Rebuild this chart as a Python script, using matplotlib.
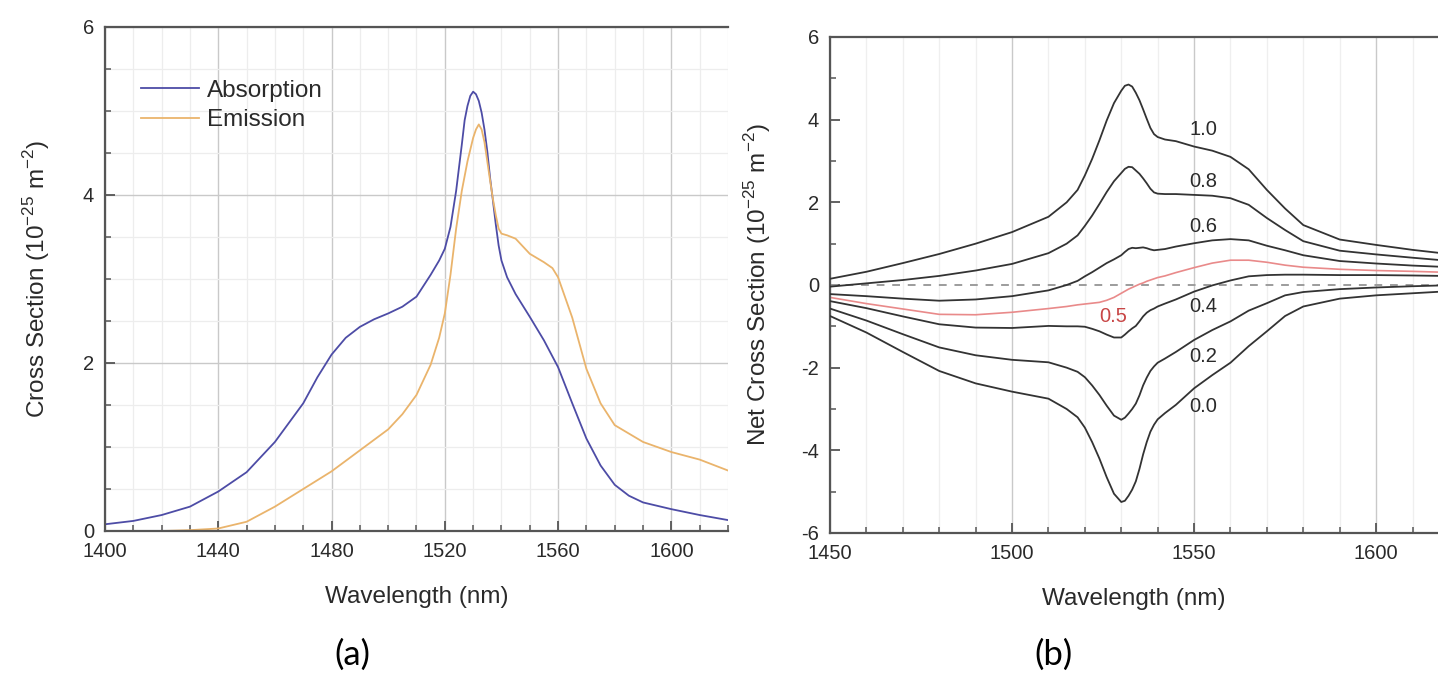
import matplotlib
matplotlib.use("Agg")
import matplotlib.pyplot as plt
from matplotlib.ticker import MultipleLocator

plt.rcParams['font.family'] = ['Liberation Sans', 'DejaVu Sans']
plt.rcParams['mathtext.fontset'] = 'custom'
plt.rcParams['mathtext.rm'] = 'Liberation Sans'
plt.rcParams['axes.unicode_minus'] = False

# ---------------- Panel (a) data ----------------
wl_abs = [1400, 1410, 1420, 1430, 1440, 1450, 1460, 1470, 1475, 1480, 1485, 1490, 1495, 1500,
          1505, 1510, 1515, 1518, 1520, 1522, 1524, 1526, 1527, 1528, 1529, 1530, 1531, 1532,
          1533, 1534, 1535, 1536, 1537, 1538, 1539, 1540, 1542, 1545, 1550, 1555, 1560, 1565,
          1570, 1575, 1580, 1585, 1590, 1600, 1610, 1620]
absorption = [0.08, 0.12, 0.19, 0.29, 0.47, 0.70, 1.06, 1.52, 1.83, 2.10, 2.30, 2.43, 2.52, 2.59,
              2.67, 2.79, 3.05, 3.22, 3.36, 3.62, 4.05, 4.60, 4.89, 5.06, 5.18, 5.23, 5.20, 5.12,
              4.98, 4.78, 4.52, 4.20, 3.93, 3.65, 3.40, 3.22, 3.02, 2.82, 2.55, 2.27, 1.95, 1.52,
              1.10, 0.78, 0.55, 0.42, 0.34, 0.26, 0.19, 0.13]

wl_emi = [1400, 1420, 1430, 1440, 1450, 1460, 1470, 1480, 1490, 1500, 1505, 1510, 1515, 1518,
          1520, 1522, 1524, 1526, 1528, 1530, 1531, 1532, 1533, 1534, 1535, 1536, 1537, 1538,
          1539, 1540, 1542, 1545, 1550, 1555, 1558, 1560, 1565, 1570, 1575, 1580, 1590, 1600,
          1610, 1620]
emission = [0.00, 0.00, 0.01, 0.03, 0.11, 0.29, 0.50, 0.71, 0.96, 1.21, 1.39, 1.62, 1.98, 2.30,
            2.59, 3.05, 3.60, 4.05, 4.40, 4.68, 4.78, 4.84, 4.78, 4.63, 4.40, 4.17, 3.95, 3.76,
            3.60, 3.54, 3.52, 3.48, 3.30, 3.20, 3.13, 3.02, 2.54, 1.93, 1.52, 1.26, 1.06, 0.94,
            0.85, 0.72]

# ---------------- Panel (b) data ----------------
wl_net = [1450, 1460, 1470, 1480, 1490, 1500, 1510, 1515, 1518, 1520, 1522, 1524, 1526, 1528,
          1530, 1531, 1532, 1533, 1534, 1535, 1536, 1537, 1538, 1539, 1540, 1542, 1545, 1550,
          1555, 1560, 1565, 1570, 1575, 1580, 1590, 1600, 1610, 1618]
net_00 = [-0.75, -1.15, -1.62, -2.08, -2.38, -2.58, -2.75, -3.00, -3.20, -3.45, -3.80, -4.20, -4.65, -5.05,
          -5.25, -5.22, -5.10, -4.95, -4.75, -4.45, -4.10, -3.80, -3.55, -3.38, -3.25, -3.10, -2.90, -2.50,
          -2.18, -1.88, -1.48, -1.12, -0.75, -0.52, -0.33, -0.25, -0.20, -0.16]
net_02 = [-0.57, -0.86, -1.19, -1.51, -1.70, -1.81, -1.87, -2.00, -2.10, -2.23, -2.43, -2.66, -2.92, -3.16,
          -3.26, -3.21, -3.11, -3.00, -2.87, -2.67, -2.43, -2.24, -2.08, -1.97, -1.88, -1.78, -1.62, -1.33,
          -1.09, -0.88, -0.62, -0.44, -0.25, -0.17, -0.10, -0.06, -0.03, -0.01]
net_04 = [-0.39, -0.56, -0.76, -0.95, -1.03, -1.04, -0.99, -1.00, -1.00, -1.01, -1.06, -1.12, -1.20, -1.27,
          -1.27, -1.20, -1.12, -1.05, -0.99, -0.88, -0.76, -0.67, -0.61, -0.57, -0.52, -0.45, -0.35, -0.16,
          -0.01, 0.11, 0.21, 0.24, 0.25, 0.25, 0.24, 0.24, 0.23, 0.22]
net_05 = [-0.30, -0.45, -0.58, -0.71, -0.72, -0.66, -0.57, -0.52, -0.48, -0.46, -0.44, -0.42, -0.37, -0.30,
          -0.20, -0.15, -0.10, -0.06, -0.02, 0.02, 0.05, 0.09, 0.12, 0.15, 0.18, 0.22, 0.30, 0.42,
          0.53, 0.60, 0.60, 0.55, 0.48, 0.43, 0.38, 0.35, 0.33, 0.31]
net_06 = [-0.22, -0.27, -0.33, -0.38, -0.35, -0.27, -0.13, 0.00, 0.10, 0.21, 0.31, 0.42, 0.53, 0.62,
          0.72, 0.80, 0.87, 0.90, 0.89, 0.90, 0.91, 0.89, 0.86, 0.84, 0.85, 0.87, 0.93, 1.01,
          1.08, 1.11, 1.08, 0.95, 0.84, 0.72, 0.58, 0.52, 0.47, 0.44]
net_08 = [-0.04, 0.04, 0.12, 0.22, 0.35, 0.51, 0.77, 1.00, 1.20, 1.43, 1.68, 1.96, 2.25, 2.51,
          2.71, 2.81, 2.86, 2.85, 2.77, 2.69, 2.58, 2.46, 2.33, 2.24, 2.21, 2.20, 2.20, 2.18,
          2.16, 2.10, 1.94, 1.62, 1.33, 1.06, 0.83, 0.74, 0.66, 0.60]
net_10 = [0.15, 0.32, 0.53, 0.75, 1.00, 1.28, 1.65, 2.00, 2.30, 2.65, 3.05, 3.50, 3.98, 4.40,
          4.70, 4.82, 4.85, 4.80, 4.65, 4.47, 4.25, 4.02, 3.80, 3.65, 3.58, 3.52, 3.48, 3.35,
          3.25, 3.10, 2.80, 2.30, 1.85, 1.45, 1.10, 0.97, 0.85, 0.77]

net_labels = ['1.0', '0.8', '0.6', '0.4', '0.2', '0.0']
label_y = [3.76, 2.50, 1.41, -0.53, -1.74, -2.95]
label_x = 1552.5
red_label = '0.5'

# ---------------- Figure ----------------
W, H = 1438, 674
fig = plt.figure(figsize=(W / 100, H / 100), dpi=100)
fig.patch.set_facecolor('white')

txt = '#2a2a2a'
spine_c = '#555555'
tick_fs = 14.5
lab_fs = 17.5

def px(x0, y0, x1, y1):
    return [x0 / W, 1 - y1 / H, (x1 - x0) / W, (y1 - y0) / H]

def style(ax):
    for s in ['left', 'bottom', 'top']:
        ax.spines[s].set_color(spine_c)
        ax.spines[s].set_linewidth(1.6)
    ax.spines['right'].set_visible(False)
    ax.tick_params(which='both', direction='in', colors=spine_c, labelcolor=txt,
                   labelsize=tick_fs, top=False, right=False)
    ax.tick_params(which='major', length=7, width=1.3, pad=8)
    ax.tick_params(which='minor', length=4, width=1.1)

# Panel (a)
ax1 = fig.add_axes(px(105, 27, 728, 531))
style(ax1)
ax1.set_xlim(1400, 1620)
ax1.set_ylim(0, 6)
ax1.xaxis.set_major_locator(MultipleLocator(40))
ax1.xaxis.set_minor_locator(MultipleLocator(10))
ax1.yaxis.set_major_locator(MultipleLocator(2))
ax1.yaxis.set_minor_locator(MultipleLocator(0.5))
ax1.grid(which='major', color='#c9c9c9', lw=1.0)
ax1.grid(which='minor', color='#ededed', lw=0.9)
ax1.set_axisbelow(True)
ax1.plot(wl_abs, absorption, color='#4d4ca6', lw=1.3, label='Absorption')
ax1.plot(wl_emi, emission, color='#eab46c', lw=1.3, label='Emission')
leg = ax1.legend(loc='upper left', bbox_to_anchor=(0.058, 0.895), frameon=False,
                 fontsize=lab_fs, handlelength=2.4, handletextpad=0.3, labelspacing=0.3,
                 borderpad=0, borderaxespad=0)
for t in leg.get_texts():
    t.set_color(txt)
ax1.set_xlabel('Wavelength (nm)', fontsize=lab_fs, color=txt, labelpad=18)
ax1.set_ylabel(r'Cross Section (10$^{\mathregular{-25}}$ m$^{\mathregular{-2}}$)',
               fontsize=lab_fs, color=txt, labelpad=22)

# Panel (b)
ax2 = fig.add_axes(px(830, 37, 1438, 533))
style(ax2)
ax2.set_xlim(1450, 1617)
ax2.set_ylim(-6, 6)
ax2.xaxis.set_major_locator(MultipleLocator(50))
ax2.xaxis.set_minor_locator(MultipleLocator(10))
ax2.yaxis.set_major_locator(MultipleLocator(2))
ax2.yaxis.set_minor_locator(MultipleLocator(1))
ax2.grid(which='major', axis='x', color='#c9c9c9', lw=1.0)
ax2.grid(which='minor', axis='x', color='#efefef', lw=0.9)
ax2.set_axisbelow(True)
ax2.axhline(0, color='#9c9c9c', lw=1.4, ls=(0, (4, 4)), zorder=1)
curves = [net_10, net_08, net_06, net_04, net_02, net_00]
for c in curves:
    ax2.plot(wl_net, c, color='#333333', lw=1.3, zorder=3)
ax2.plot(wl_net, net_05, color='#e98a8a', lw=1.2, zorder=2)
for lab, yv in zip(net_labels, label_y):
    ax2.text(label_x, yv, lab, fontsize=tick_fs, color=txt, ha='center', va='center')
ax2.text(1527.8, -0.75, red_label, fontsize=tick_fs, color='#c84646', ha='center', va='center')
ax2.set_xlabel('Wavelength (nm)', fontsize=lab_fs, color=txt, labelpad=18)
ax2.set_ylabel(r'Net Cross Section (10$^{\mathregular{-25}}$ m$^{\mathregular{-2}}$)',
               fontsize=lab_fs, color=txt, labelpad=20)

fig.text(352 / W, 1 - 655 / H, '(a)', fontsize=25, family=['Lato', 'DejaVu Sans'],
         ha='center', va='center', color='black')
fig.text(1053 / W, 1 - 655 / H, '(b)', fontsize=25, family=['Lato', 'DejaVu Sans'],
         ha='center', va='center', color='black')

fig.savefig('out.png', dpi=100, facecolor='white')
